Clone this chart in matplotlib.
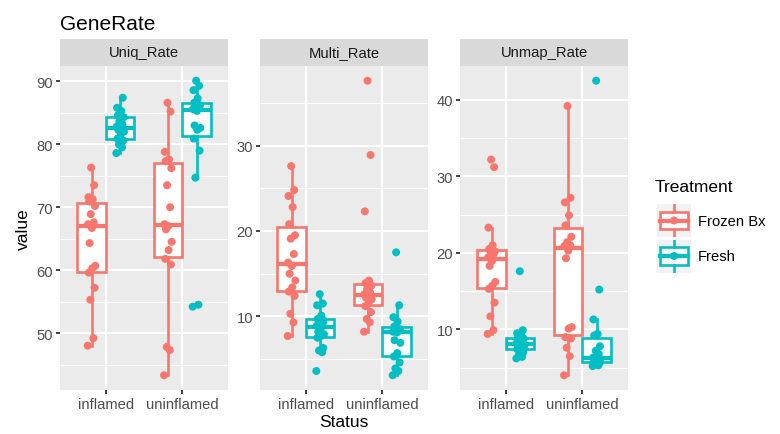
import matplotlib
matplotlib.use("Agg")
import matplotlib.pyplot as plt
import numpy as np
from matplotlib.patches import Rectangle

plt.rcParams['font.family'] = ['Liberation Sans', 'DejaVu Sans']

# ---------------- data ----------------
statuses = ['inflamed', 'uninflamed']
treatments = ['Frozen Bx', 'Fresh']
panels = ['Uniq_Rate', 'Multi_Rate', 'Unmap_Rate']

uniq_frozen_inflamed = [48.0, 49.2, 55.3, 57.2, 59.6, 60.3, 60.7, 64.3, 66.7,
                        67.3, 67.6, 68.9, 70.2, 70.9, 71.3, 71.6, 73.5, 76.3]
uniq_frozen_uninflamed = [43.3, 47.3, 47.8, 60.9, 61.8, 63.2, 64.5, 66.5, 67.0,
                          67.3, 70.0, 73.5, 76.2, 77.3, 77.6, 78.8, 85.2, 86.6]
uniq_fresh_inflamed = [78.6, 79.5, 80.0, 80.6, 80.9, 81.6, 82.0, 82.3, 82.6,
                       82.8, 83.2, 83.6, 84.3, 84.6, 85.3, 85.8, 87.4]
uniq_fresh_uninflamed = [54.2, 54.5, 74.7, 79.0, 80.9, 82.3, 82.6, 83.0, 85.3,
                         85.6, 85.8, 86.0, 86.2, 86.6, 87.3, 88.6, 89.3, 90.1]

multi_frozen_inflamed = [7.7, 9.3, 10.3, 12.4, 12.9, 13.4, 14.2, 15.0, 15.9,
                         16.3, 17.3, 19.1, 19.5, 20.8, 22.8, 24.1, 24.8, 27.6]
multi_frozen_uninflamed = [8.2, 9.3, 9.7, 10.5, 11.2, 11.6, 12.0, 12.2, 12.4,
                           12.6, 12.8, 13.2, 13.6, 13.9, 14.2, 22.3, 28.9, 37.6]
multi_fresh_inflamed = [3.6, 5.8, 6.0, 6.3, 7.5, 7.7, 7.9, 8.2, 8.5,
                        8.9, 9.1, 9.3, 9.5, 9.7, 10.1, 11.3, 11.5, 12.6]
multi_fresh_uninflamed = [3.1, 3.6, 3.9, 4.6, 5.3, 5.7, 6.9, 7.2, 8.1,
                          8.2, 8.3, 8.4, 8.5, 8.8, 9.4, 9.9, 11.3, 17.5]

unmap_frozen_inflamed = [9.4, 9.9, 11.7, 13.5, 15.3, 15.7, 16.2, 18.3, 18.9,
                         19.4, 19.9, 20.1, 20.2, 20.5, 21.0, 23.3, 31.2, 32.2]
unmap_frozen_uninflamed = [4.0, 6.5, 7.6, 8.8, 9.0, 10.1, 10.3, 19.3, 20.3,
                           20.9, 21.0, 21.4, 22.1, 23.6, 24.9, 26.6, 27.2, 39.2]
unmap_fresh_inflamed = [6.2, 6.4, 6.7, 7.0, 7.4, 7.6, 7.7, 7.9, 8.0,
                        8.2, 8.4, 8.6, 8.8, 8.9, 9.2, 9.5, 9.9, 17.6]
unmap_fresh_uninflamed = [5.2, 5.3, 5.5, 5.6, 5.7, 5.8, 6.0, 6.1, 6.2,
                          6.3, 6.8, 7.2, 7.8, 9.2, 9.4, 11.3, 15.2, 42.5]

panel_data = {
    'Uniq_Rate': [[uniq_frozen_inflamed, uniq_frozen_uninflamed],
                  [uniq_fresh_inflamed, uniq_fresh_uninflamed]],
    'Multi_Rate': [[multi_frozen_inflamed, multi_frozen_uninflamed],
                   [multi_fresh_inflamed, multi_fresh_uninflamed]],
    'Unmap_Rate': [[unmap_frozen_inflamed, unmap_frozen_uninflamed],
                   [unmap_fresh_inflamed, unmap_fresh_uninflamed]],
}
major_ticks = {'Uniq_Rate': [50, 60, 70, 80, 90],
               'Multi_Rate': [10, 20, 30],
               'Unmap_Rate': [10, 20, 30, 40]}
minor_ticks = {'Uniq_Rate': [45, 55, 65, 75, 85],
               'Multi_Rate': [5, 15, 25, 35],
               'Unmap_Rate': [5, 15, 25, 35]}

colors = ['#F8766D', '#00BFC4']
# small fixed horizontal spread for the points
jit = np.array([-1, 0.5, -0.3, 0.8, -0.7, 0.2, 1, -0.5, 0.1,
                -0.9, 0.6, -0.2, 0.9, -0.6, 0.3, -0.8, 0.7, -0.1]) * 0.05

W, H = 780, 435
fig = plt.figure(figsize=(W / 100, H / 100), dpi=100)

panel_left = [60, 260, 460]
panel_w = 168
plot_top, plot_bot, strip_top = 67, 391, 40
LW = 1.9

for k, name in enumerate(panels):
    ax = fig.add_axes([panel_left[k] / W, 1 - plot_bot / H,
                       panel_w / W, (plot_bot - plot_top) / H])
    ax.set_facecolor('#EBEBEB')
    for s in ax.spines.values():
        s.set_visible(False)

    for t, col in enumerate(colors):
        off = -0.1875 if t == 0 else 0.1875
        pos = [1 + off, 2 + off]
        groups = panel_data[name][t]
        ax.boxplot(groups, positions=pos, widths=0.375, patch_artist=True,
                   showcaps=False, showfliers=False, whis=1.5,
                   manage_ticks=False,
                   boxprops=dict(facecolor='white', edgecolor=col, linewidth=LW),
                   whiskerprops=dict(color=col, linewidth=LW),
                   medianprops=dict(color=col, linewidth=LW * 1.6),
                   zorder=2)
        for p, g in zip(pos, groups):
            g = np.asarray(g)
            ax.scatter(p + jit[:len(g)], g, s=33, color=col,
                       edgecolors='none', zorder=3)

    allv = np.concatenate([np.concatenate(g) for g in panel_data[name]])
    lo, hi = allv.min(), allv.max()
    pad = 0.05 * (hi - lo)
    ax.set_ylim(lo - pad, hi + pad)
    ax.set_xlim(0.4, 2.6)

    ax.set_yticks(major_ticks[name])
    ax.set_yticks(minor_ticks[name], minor=True)
    ax.set_xticks([1, 2])
    ax.set_xticklabels(statuses)
    ax.grid(True, which='major', color='white', linewidth=1.5)
    ax.grid(True, which='minor', axis='y', color='white', linewidth=0.8)
    ax.set_axisbelow(True)
    ax.tick_params(which='major', length=3, width=1.3, color='#333333',
                   labelsize=10.6, labelcolor='#4D4D4D', pad=2)
    ax.tick_params(which='minor', length=0)

    if k == 0:
        ax.set_ylabel('value', fontsize=12.5, labelpad=4)
    if k == 1:
        ax.set_xlabel('Status', fontsize=12.5, labelpad=2)

    # facet strip
    sax = fig.add_axes([panel_left[k] / W, 1 - plot_top / H,
                        panel_w / W, (plot_top - strip_top) / H])
    sax.set_facecolor('#D9D9D9')
    sax.set_xticks([])
    sax.set_yticks([])
    for s in sax.spines.values():
        s.set_visible(False)
    sax.text(0.5, 0.5, name, ha='center', va='center', fontsize=10.6,
             color='#1A1A1A', transform=sax.transAxes)

fig.text(60 / W, 1 - 30 / H, 'GeneRate', fontsize=15, ha='left', va='baseline')

# legend
fig.text(655 / W, 1 - 188 / H, 'Treatment', fontsize=12.5, ha='left', va='center')
key_tops = [205, 240.5]
for t, col in enumerate(colors):
    kax = fig.add_axes([657 / W, 1 - (key_tops[t] + 33) / H, 34 / W, 33 / H])
    kax.set_xlim(0, 1)
    kax.set_ylim(0, 1)
    kax.axis('off')
    kax.add_patch(Rectangle((0, 0), 1, 1, facecolor='#F2F2F2', edgecolor='none'))
    kax.add_patch(Rectangle((0.08, 0.24), 0.84, 0.52, facecolor='white',
                            edgecolor=col, linewidth=LW))
    kax.plot([0.5, 0.5], [0.0, 0.24], color=col, linewidth=LW)
    kax.plot([0.5, 0.5], [0.76, 1.0], color=col, linewidth=LW)
    kax.plot([0.08, 0.92], [0.5, 0.5], color=col, linewidth=LW * 1.6)
    kax.scatter([0.5], [0.5], s=33, color=col, edgecolors='none', zorder=3)
    fig.text(698 / W, 1 - (key_tops[t] + 16.5) / H, treatments[t],
             fontsize=10.6, ha='left', va='center')

fig.savefig('out.png', dpi=100)
